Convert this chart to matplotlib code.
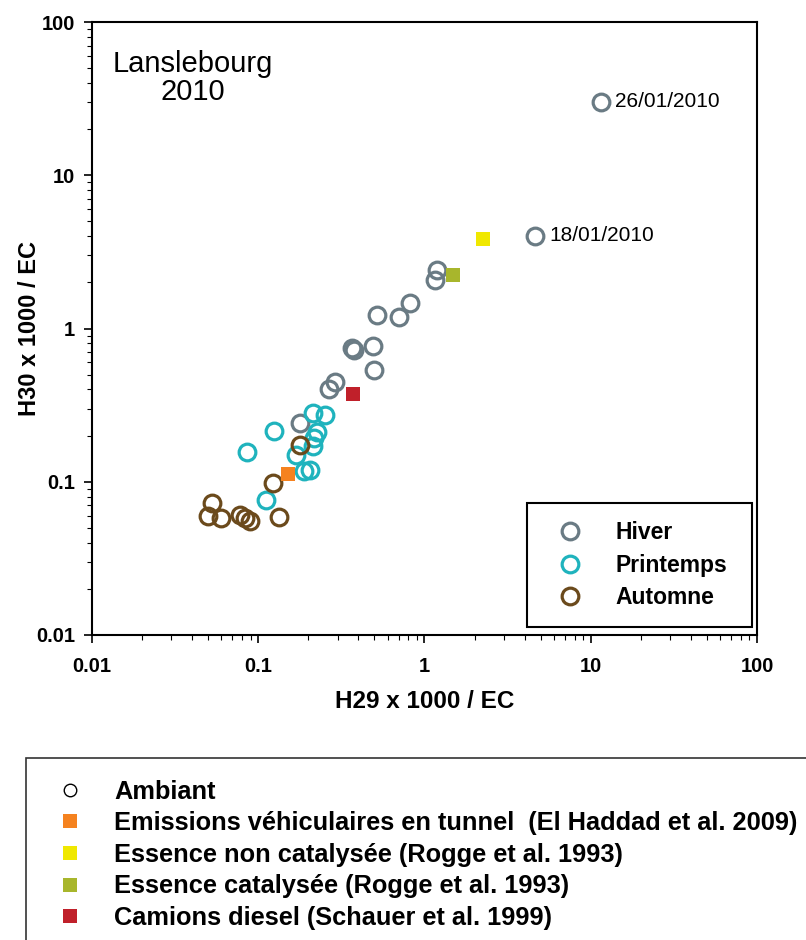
import numpy as np
import matplotlib.pyplot as plt
from matplotlib.lines import Line2D
from matplotlib.ticker import FuncFormatter, LogLocator

plt.rcParams['font.family'] = ['Liberation Sans', 'DejaVu Sans']

# ambient samples, by season (H29 x 1000 / EC, H30 x 1000 / EC)
hiver_x = [11.6, 4.62, 1.19, 1.16, 0.82, 0.70, 0.52, 0.49, 0.365, 0.375, 0.50, 0.29, 0.267, 0.178]
hiver_y = [30.2, 4.02, 2.41, 2.07, 1.47, 1.19, 1.22, 0.77, 0.746, 0.724, 0.54, 0.45, 0.40, 0.243]
printemps_x = [0.213, 0.252, 0.125, 0.225, 0.216, 0.213, 0.0855, 0.168, 0.188, 0.205, 0.111]
printemps_y = [0.281, 0.271, 0.214, 0.211, 0.193, 0.171, 0.156, 0.150, 0.1175, 0.120, 0.0755]
automne_x = [0.178, 0.123, 0.0524, 0.050, 0.0593, 0.0776, 0.0832, 0.0891, 0.134]
automne_y = [0.174, 0.0975, 0.0723, 0.0598, 0.058, 0.0607, 0.0577, 0.0558, 0.0592]

# labelled winter events (index into hiver arrays)
event_idx = [0, 1]
event_labels = ['26/01/2010', '18/01/2010']

# emission source profiles
source_labels = ['Emissions véhiculaires en tunnel  (El Haddad et al. 2009)',
                 'Essence non catalysée (Rogge et al. 1993)',
                 'Essence catalysée (Rogge et al. 1993)',
                 'Camions diesel (Schauer et al. 1999)']
source_x = [0.150, 2.26, 1.48, 0.370]
source_y = [0.112, 3.82, 2.23, 0.374]
source_colors = ['#f5821f', '#f0e800', '#a8b62c', '#c0202a']

season_labels = ['Hiver', 'Printemps', 'Automne']
season_colors = ['#6a7b84', '#1fb3bd', '#6b4a1c']

fig = plt.figure(figsize=(8.06, 9.4), dpi=100)
ax = fig.add_axes([92 / 806, 1 - 635 / 940, 665 / 806, 613 / 940])

circle_kw = dict(marker='o', ls='none', ms=12, mew=2.3, mfc='none')
seasons = [(hiver_x, hiver_y), (printemps_x, printemps_y), (automne_x, automne_y)]
for (xs, ys), lab, col in zip(seasons, season_labels, season_colors):
    ax.plot(xs, ys, mec=col, label=lab, **circle_kw)

for i, lab in zip(event_idx, event_labels):
    ax.annotate(lab, (hiver_x[i], hiver_y[i]), xytext=(10, 0), textcoords='offset points',
                va='center', ha='left', fontsize=15)

for xs, ys, col in zip(source_x, source_y, source_colors):
    ax.plot(xs, ys, marker='s', ls='none', ms=10.5, mew=0, color=col, zorder=3)

ax.set_xscale('log')
ax.set_yscale('log')
ax.set_xlim(0.01, 100)
ax.set_ylim(0.01, 100)
fmt = FuncFormatter(lambda v, _: f'{v:g}')
for axis in (ax.xaxis, ax.yaxis):
    axis.set_major_locator(LogLocator(base=10))
    axis.set_minor_locator(LogLocator(base=10, subs=np.arange(2, 10)))
    axis.set_major_formatter(fmt)
ax.tick_params(which='major', length=6, width=1.2, labelsize=14.5)
ax.tick_params(which='minor', length=3.5, width=0.8)
ax.tick_params(axis='x', which='major', pad=10)
ax.tick_params(axis='y', which='major', pad=6)
for lab in ax.get_xticklabels() + ax.get_yticklabels():
    lab.set_fontweight('bold')
for sp in ax.spines.values():
    sp.set_linewidth(1.5)

ax.set_xlabel('H29 x 1000 / EC', fontsize=17.5, fontweight='bold')
ax.set_ylabel('H30 x 1000 / EC', fontsize=17, fontweight='bold')
ax.xaxis.set_label_coords(0.5, -0.09)
ax.yaxis.set_label_coords(-0.077, 0.5)

ax.text(0.152, 0.955, 'Lanslebourg\n2010', transform=ax.transAxes, ha='center', va='top',
        multialignment='center', fontsize=21, linespacing=1.0)

leg = ax.legend(loc='lower left', bbox_to_anchor=(0.654, 0.013, 0.338, 0.2), mode='expand',
                borderaxespad=0, fancybox=False, edgecolor='black', framealpha=1,
                borderpad=0.8, handlelength=2.2, handletextpad=0.87, labelspacing=0.4,
                prop=dict(size=16.5, weight='bold'))
leg.get_frame().set_linewidth(1.5)

# bottom legend for the symbol meanings
handles = [Line2D([], [], marker='o', ls='none', ms=9, mew=1, mfc='none', mec='black')]
handles += [Line2D([], [], marker='s', ls='none', ms=10, mew=0, color=c) for c in source_colors]
fig_leg = fig.legend(handles, ['Ambiant'] + source_labels, loc='upper left',
                     bbox_to_anchor=(26 / 806, 1 - 758 / 940, 1.0, 0.0), mode='expand',
                     borderaxespad=0, fancybox=False, edgecolor='#333333', framealpha=1,
                     borderpad=0.85, handlelength=1.8, handletextpad=0.83, labelspacing=0.3,
                     prop=dict(size=18.3, weight='bold'))
fig_leg.get_frame().set_linewidth(1.2)

fig.savefig('out.png', dpi=100)
